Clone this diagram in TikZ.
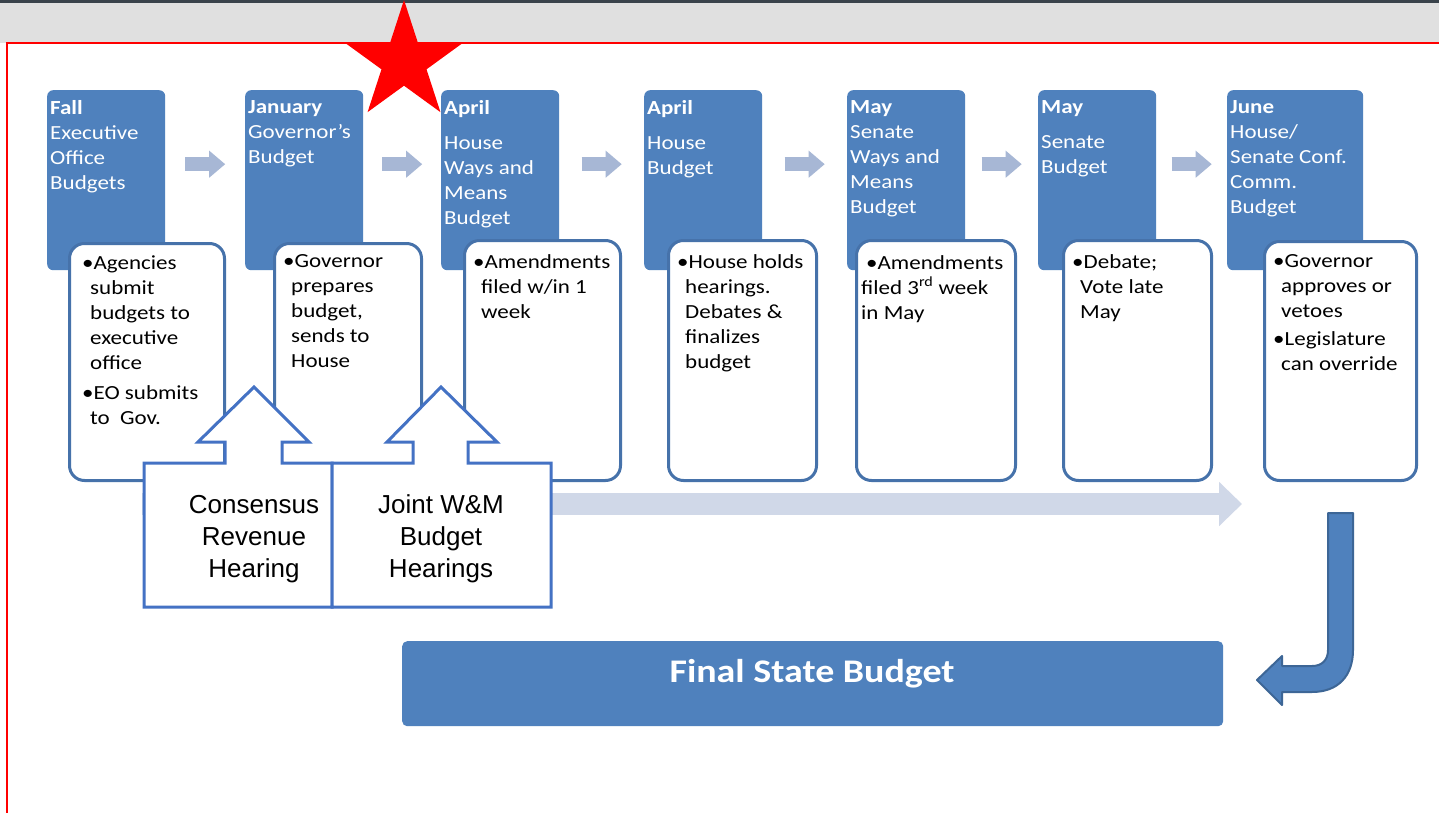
\documentclass[tikz,border=0pt]{standalone}
\usepackage{fontspec}
\setmainfont{Carlito}
\newfontfamily\slidefont[FakeStretch=1.15]{Carlito}
\newfontfamily\gslidefont{Liberation Sans}
\usetikzlibrary{arrows.meta,calc,shapes.geometric}

\definecolor{sblue}{HTML}{4F81BD}
\definecolor{sedge}{HTML}{4672AA}
\definecolor{sarrow}{HTML}{A7B7D5}
\definecolor{stime}{HTML}{D0D8E8}
\definecolor{gblue}{HTML}{4472C4}
\definecolor{bandgray}{HTML}{E0E0E0}
\definecolor{bardark}{HTML}{3A434B}
\definecolor{darkedge}{HTML}{3D6696}

\newcommand{\nind}{\hspace*{8pt}}

\begin{document}
\begin{tikzpicture}[x=1pt,y=-1pt,
  topbox/.style={fill=sblue, rounded corners=6pt, minimum width=118pt, minimum height=180pt, anchor=north west, inner sep=0pt},
  notebox/.style={draw=sedge, fill=white, line width=3pt, rounded corners=15pt, anchor=north west, inner sep=0pt},
  toptext/.style={anchor=north west, inner sep=0pt, align=left, text=white, font=\slidefont\fontsize{20}{25}\selectfont, execute at begin node={\rule{0pt}{15pt}}},
  notetext/.style={anchor=north west, inner sep=0pt, align=left, text=black, font=\slidefont\fontsize{20}{25}\selectfont, execute at begin node={\rule{0pt}{15pt}}},
  steparrow/.style={draw=sarrow, line width=14pt, -{Triangle[width=26pt,length=16pt]}},
  callout/.style={draw=gblue, fill=white, line width=3pt},
  callouttext/.style={align=center, inner sep=0pt, font=\gslidefont\fontsize{26}{32}\selectfont}]
\clip (0,0) rectangle (1439,813);
% slide frame
\fill[bandgray] (0,0) rectangle (1439,43);
\fill[bardark] (0,0) rectangle (1439,3);
\draw[red, line width=2pt, fill=white] (7,43) rectangle (1470,840);

% timeline
\coordinate (tlstart) at (142,504);
\coordinate (tlend) at (1242,504);
\draw[stime, line width=22pt, -{Triangle[width=43pt,length=23pt]}] (tlstart) -- (tlend);

% stages
\node[topbox] (t1) at (47,90) {};
\node[topbox] (t2) at (245,90) {};
\node[topbox] (t3) at (441,90) {};
\node[topbox] (t4) at (644,90) {};
\node[topbox] (t5) at (847,90) {};
\node[topbox] (t6) at (1038,90) {};
\node[topbox, minimum width=136pt] (t7) at (1227,90) {};

\node[toptext] (t1txt) at ([xshift=3pt,yshift=-10pt]t1.north west) {\textbf{Fall}\\Executive\\Office\\Budgets};
\node[toptext] (t2txt) at ([xshift=3pt,yshift=-10pt]t2.north west) {\textbf{January}\\Governor’s\\Budget};
\node[toptext] (t3txt) at ([xshift=3pt,yshift=-10pt]t3.north west) {\textbf{April}\\[10pt]House\\Ways and\\Means\\Budget};
\node[toptext] (t4txt) at ([xshift=3pt,yshift=-10pt]t4.north west) {\textbf{April}\\[10pt]House\\Budget};
\node[toptext] (t5txt) at ([xshift=3pt,yshift=-10pt]t5.north west) {\textbf{May}\\Senate\\Ways and\\Means\\Budget};
\node[toptext] (t6txt) at ([xshift=3pt,yshift=-10pt]t6.north west) {\textbf{May}\\[10pt]Senate\\Budget};
\node[toptext] (t7txt) at ([xshift=3pt,yshift=-10pt]t7.north west) {\textbf{June}\\House/\\Senate Conf.\\Comm.\\Budget};

\foreach \a/\b in {t1/t2,t2/t3,t3/t4,t4/t5,t5/t6,t6/t7}
  \draw[steparrow] ($(\a.east)!.5!(\b.west)+(-20,-16)$) -- ++(40,0);

% notes
\node[notebox, minimum width=155pt, minimum height=237pt] (n1) at (68,242) {};
\node[notebox, minimum width=147pt, minimum height=237pt] (n2) at (273,242) {};
\node[notebox, minimum width=156pt, minimum height=240pt] (n3) at (463,239) {};
\node[notebox, minimum width=148pt, minimum height=240pt] (n4) at (667,239) {};
\node[notebox, minimum width=159pt, minimum height=240pt] (n5) at (855,239) {};
\node[notebox, minimum width=148pt, minimum height=240pt] (n6) at (1062,239) {};
\node[notebox, minimum width=152pt, minimum height=239pt] (n7) at (1263,240) {};

\node[notetext] (n1txt) at ([xshift=14pt,yshift=-14pt]n1.north west) {\textbullet Agencies\\\nind submit\\\nind budgets to\\\nind executive\\\nind office\\[5pt]\textbullet EO submits\\\nind to\ \ Gov.};
\node[notetext] (n2txt) at ([xshift=10pt,yshift=-12pt]n2.north west) {\textbullet Governor\\\nind prepares\\\nind budget,\\\nind sends to\\\nind House};
\node[notetext] (n3txt) at ([xshift=10pt,yshift=-15pt]n3.north west) {\textbullet Amendments\\\nind filed w/in 1\\\nind week};
\node[notetext] (n4txt) at ([xshift=10pt,yshift=-15pt]n4.north west) {\textbullet House holds\\\nind hearings.\\\nind Debates \&\\\nind finalizes\\\nind budget};
\node[notetext] (n5txt) at ([xshift=11pt,yshift=-16pt]n5.north west) {\textbullet Amendments\\\hspace*{-5pt}filed 3\textsuperscript{rd} week\\\hspace*{-5pt}in May};
\node[notetext] (n6txt) at ([xshift=10pt,yshift=-15pt]n6.north west) {\textbullet Debate;\\\nind Vote late\\\nind May};
\node[notetext] (n7txt) at ([xshift=10pt,yshift=-14pt]n7.north west) {\textbullet Governor\\\nind approves or\\\nind vetoes\\[3pt]\textbullet Legislature\\\nind can override};

% hearings
\draw[callout] (144,607) -- (144,463) -- (225,463) -- (225,442) -- (198,442) -- (254,387) -- (309,442) -- (282,442) -- (282,463) -- (332,463) -- (332,607) -- cycle;
\node[callouttext] (crh) at (254,539) {Consensus\\Revenue\\Hearing};
\draw[callout] (332,607) -- (332,463) -- (413,463) -- (413,442) -- (387,442) -- (441,387) -- (497,442) -- (468,442) -- (468,463) -- (551,463) -- (551,607) -- cycle;
\node[callouttext] (jwm) at (441,539) {Joint W\&M\\Budget\\Hearings};

% result
\node[fill=sblue, rounded corners=5pt, minimum width=821pt, minimum height=85pt, anchor=north west, inner sep=0pt] (final) at (402,641) {};
\node[text=white, inner sep=0pt, font=\slidefont\bfseries\fontsize{33}{40}\selectfont] (finaltxt) at (812,674) {Final State Budget};
\draw[fill=sblue, draw=darkedge, line width=2pt, line join=round] (1328,513) -- (1353,513) -- (1353,650) .. controls (1353,676) and (1338,692) .. (1312,692) -- (1282,692) -- (1282,705) -- (1257,680) -- (1282,656) -- (1282,666) -- (1312,666) .. controls (1322,666) and (1328,660) .. (1328,650) -- cycle;

\node[star, star points=5, star point ratio=2.618, fill=red, inner sep=0pt, minimum size=124pt] (mark) at (404,62) {};
\end{tikzpicture}
\end{document}
